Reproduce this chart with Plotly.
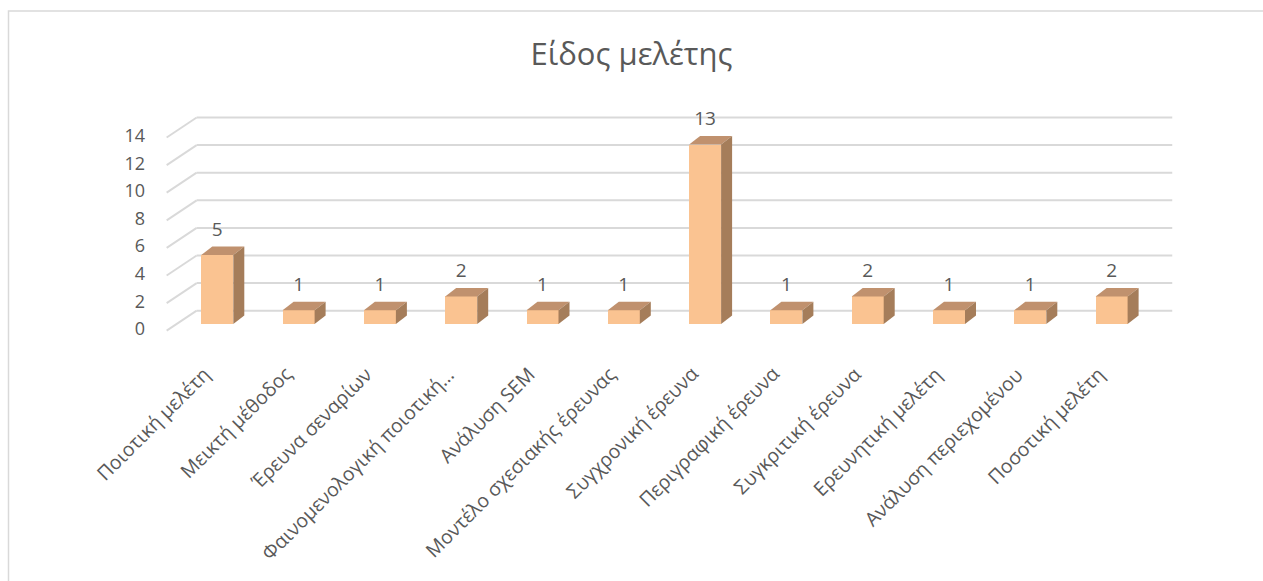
import plotly.graph_objects as go

# ---- data ----
categories = [
    "Ποιοτική μελέτη",
    "Μεικτή μέθοδος",
    "Έρευνα σεναρίων",
    "Φαινομενολογική ποιοτική…",
    "Ανάλυση SEM",
    "Μοντέλο σχεσιακής έρευνας",
    "Συγχρονική έρευνα",
    "Περιγραφική έρευνα",
    "Συγκριτική έρευνα",
    "Ερευνητική μελέτη",
    "Ανάλυση περιεχομένου",
    "Ποσοτική μελέτη",
]
counts = [5, 1, 1, 2, 1, 1, 13, 1, 2, 1, 1, 2]
y_ticks = [0, 2, 4, 6, 8, 10, 12, 14]
title_text = "Είδος μελέτης"

# ---- styling ----
FONT = "Open Sans"
TEXT = "#595959"
GRID = "#D9D9D9"
FRONT = "#FAC391"
TOP = "#C0916E"
SIDE = "#A57D5A"

W, H = 1263, 581
PL, PR, PT, PB = 100, 1200, 100, 345          # plot area in pixels
X0PX, Y0PX = 217.3, 324.0                     # pixel of category 0 / value 0 (bar front plane)
PXU, PYU = 81.3, 13.8                         # pixels per category / per value unit

def px_x(p):
    return (p - X0PX) / PXU

def px_y(p):
    return (Y0PX - p) / PYU

def dxu(d):  # horizontal pixel offset -> category units
    return d / PXU

def dyu(d):  # vertical pixel offset (upwards positive) -> value units
    return d / PYU

def paper_x(p):
    return (p - PL) / (PR - PL)

def paper_y(p):
    return (PB - p) / (PB - PT)

# oblique depth offsets (pixels)
WALL_DX, WALL_DY = 20.0, 13.3     # bar plane -> back wall
FRONT_DX, FRONT_DY = -10.0, -6.7  # bar plane -> front edge of floor
BAR_DX, BAR_DY = 11.0, 8.5        # depth of each column
BAR_W = 32.0 / PXU

n = len(categories)
xs = list(range(n))

fig = go.Figure()
shapes = []

# back wall gridlines and side wall diagonals
for v in y_ticks:
    yb = v + dyu(WALL_DY)
    shapes.append(dict(type="line", xref="x", yref="y", layer="below",
                       x0=-0.5 + dxu(WALL_DX), x1=n - 0.5 + dxu(WALL_DX), y0=yb, y1=yb,
                       line=dict(color=GRID, width=2)))
    shapes.append(dict(type="line", xref="x", yref="y", layer="below",
                       x0=-0.5 + dxu(FRONT_DX), y0=v + dyu(FRONT_DY),
                       x1=-0.5 + dxu(WALL_DX), y1=yb,
                       line=dict(color=GRID, width=2)))

# column front faces
fig.add_trace(go.Bar(x=xs, y=counts, width=BAR_W, marker=dict(color=FRONT, line=dict(width=0)),
                     hoverinfo="skip", showlegend=False))

# column top and side faces
ddx, ddy = dxu(BAR_DX), dyu(BAR_DY)
for i, v in zip(xs, counts):
    l, r = i - BAR_W / 2, i + BAR_W / 2
    fig.add_trace(go.Scatter(x=[l, r, r + ddx, l + ddx, l], y=[v, v, v + ddy, v + ddy, v],
                             mode="lines", fill="toself", fillcolor=TOP,
                             line=dict(width=0, color=TOP), hoverinfo="skip", showlegend=False))
    fig.add_trace(go.Scatter(x=[r, r + ddx, r + ddx, r, r], y=[0, ddy, v + ddy, v, 0],
                             mode="lines", fill="toself", fillcolor=SIDE,
                             line=dict(width=0, color=SIDE), hoverinfo="skip", showlegend=False))

# data labels
fig.add_trace(go.Scatter(x=xs, y=[v + dyu(24) for v in counts], mode="text",
                         text=[str(v) for v in counts], textposition="middle center",
                         textfont=dict(family=FONT, size=19, color=TEXT),
                         cliponaxis=False, hoverinfo="skip", showlegend=False))

# value axis labels on the front edge
fig.add_trace(go.Scatter(x=[px_x(145)] * len(y_ticks), y=[v + dyu(FRONT_DY) for v in y_ticks],
                         mode="text", text=[str(v) for v in y_ticks], textposition="middle left",
                         textfont=dict(family=FONT, size=18, color=TEXT),
                         cliponaxis=False, hoverinfo="skip", showlegend=False))

# category labels, rotated
annotations = []
for i, c in zip(xs, categories):
    xp = X0PX + i * PXU + 1
    annotations.append(dict(x=paper_x(xp), y=paper_y(358), xref="paper", yref="paper",
                            text=c, showarrow=False, textangle=-45,
                            xanchor="right", yanchor="top",
                            font=dict(family=FONT, size=19.5, color=TEXT)))

# chart frame
shapes.append(dict(type="rect", xref="paper", yref="paper",
                   x0=paper_x(8.5), x1=paper_x(W + 10), y0=paper_y(H + 10), y1=paper_y(11),
                   line=dict(color=GRID, width=1.5), fillcolor="rgba(0,0,0,0)", layer="below"))

fig.update_layout(
    width=W, height=H,
    margin=dict(l=PL, r=W - PR, t=PT, b=H - PB, pad=0),
    paper_bgcolor="white", plot_bgcolor="rgba(0,0,0,0)",
    title=dict(text=title_text, x=0.5, xanchor="center", y=1 - 54 / H, yanchor="middle",
               yref="container", font=dict(family=FONT, size=31, color=TEXT)),
    xaxis=dict(range=[px_x(PL), px_x(PR)], visible=False, fixedrange=True),
    yaxis=dict(range=[px_y(PB), px_y(PT)], visible=False, fixedrange=True),
    shapes=shapes, annotations=annotations,
    showlegend=False, bargap=0,
)

fig.write_html("out.html")
